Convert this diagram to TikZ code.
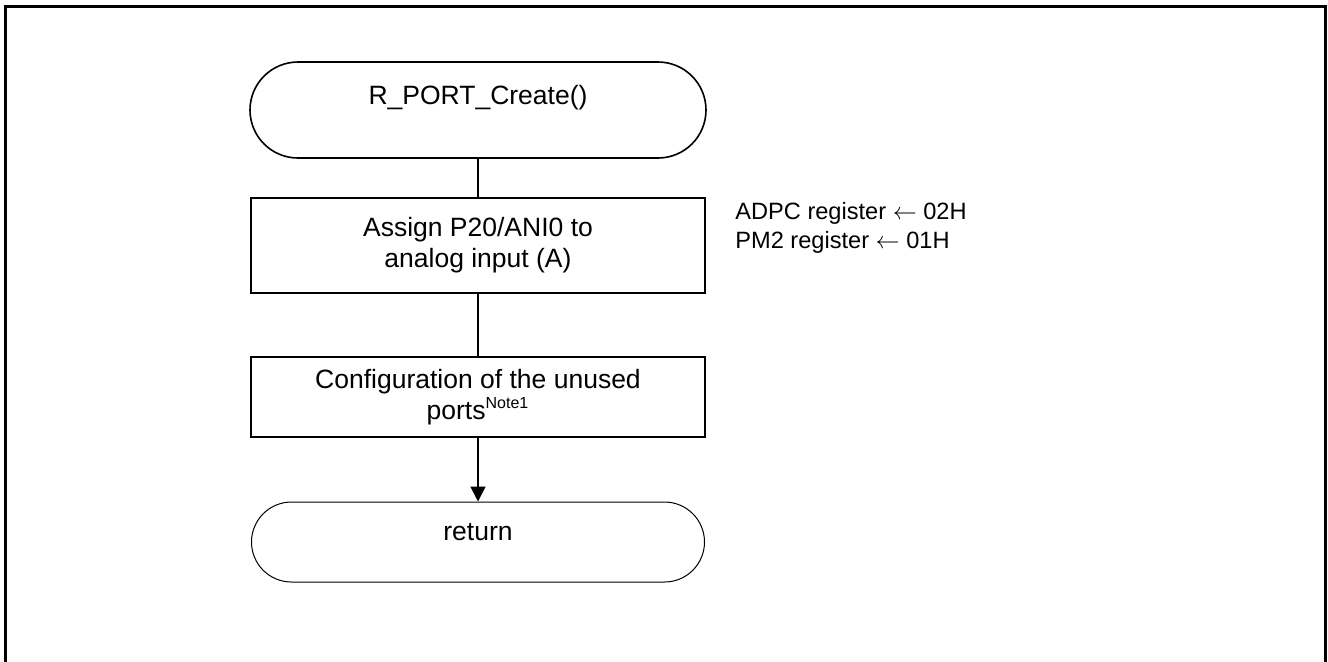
\documentclass[tikz,border=0pt]{standalone}
\usepackage{fontspec}
\setmainfont{Liberation Sans}
\usetikzlibrary{arrows.meta,shapes.misc}

\begin{document}
\begin{tikzpicture}[x=0.5pt,y=-0.5pt,
	term/.style={rounded rectangle, draw, inner sep=0pt, minimum width=228pt,
		font=\fontsize{13.25}{15.5}\selectfont},
	proc/.style={rectangle, draw, line width=1pt, inner sep=0pt, minimum width=227pt,
		align=center, font=\fontsize{13.25}{15.5}\selectfont},
	note/.style={inner sep=0pt, align=left, font=\fontsize{11.8}{14.5}\selectfont}]
	\clip (0,0) rectangle (1328,661);
	\draw[line width=1.5pt] (5,700) -- (5,6) -- (1325,6) -- (1325,700);

	\node[term, line width=0.8pt, text height=21pt, text depth=27pt] (start) at (478,110) {R\_PORT\_Create()};
	\node[proc, minimum height=47.5pt] (assign) at (478,245.5) {Assign P20/ANI0 to\\analog input (A)};
	\node[proc, minimum height=40pt] (unused) at (478,397) {Configuration of the unused\\ports\textsuperscript{\footnotesize Note1}};
	\node[term, line width=0.5pt, minimum width=226.5pt, text height=19pt, text depth=21pt] (ret) at (478,542) {return};

	\node[note, anchor=north west] (regs) at ([xshift=14.5pt,yshift=-2.5pt]assign.north east)
		{ADPC register $\leftarrow$ 02H\\PM2 register $\leftarrow$ 01H};

	\draw[line width=0.8pt]
		(start) edge (assign)
		(assign) edge (unused)
		(unused) edge[-{Triangle[length=7.5pt,width=7.5pt]}] (ret)
	;
\end{tikzpicture}
\end{document}
